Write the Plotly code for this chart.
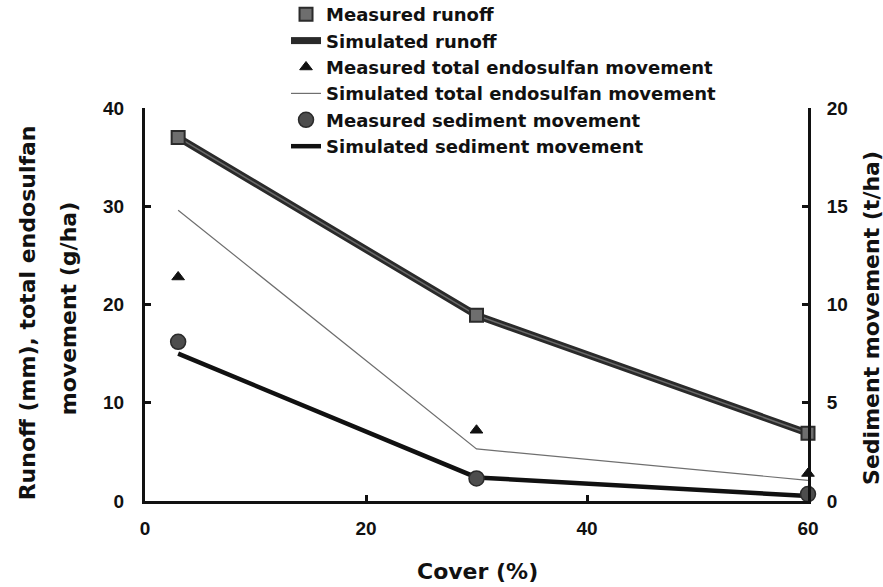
import plotly.graph_objects as go

cover = [3, 30, 60]
measured_runoff = [37.0, 18.9, 6.9]
simulated_runoff = [37.0, 18.9, 6.9]
measured_endosulfan = [22.8, 7.2, 2.8]
simulated_endosulfan = [29.6, 5.3, 2.1]
measured_sediment = [8.1, 1.15, 0.35]
simulated_sediment = [7.5, 1.2, 0.25]

left_ticks = [0, 10, 20, 30, 40]
right_ticks = [0, 5, 10, 15, 20]
x_ticks = [0, 20, 40, 60]

TICKFONT = "Liberation Sans"
TEXTFONT = "DejaVu Sans"
INK = "#111111"

fig = go.Figure()
# lines first (drawn below markers)
fig.add_trace(go.Scatter(x=cover, y=simulated_runoff, mode="lines", name="Simulated runoff",
                         legendrank=2, cliponaxis=False,
                         line=dict(color="#2a2a2a", width=7)))
fig.add_trace(go.Scatter(x=cover, y=simulated_runoff, mode="lines", showlegend=False,
                         hoverinfo="skip", cliponaxis=False,
                         line=dict(color="#6a6a6a", width=1.5)))
fig.add_trace(go.Scatter(x=cover, y=simulated_endosulfan, mode="lines",
                         name="Simulated total endosulfan movement", legendrank=4,
                         cliponaxis=False,
                         line=dict(color="#6f6f6f", width=1.2)))
fig.add_trace(go.Scatter(x=cover, y=simulated_sediment, mode="lines", yaxis="y2",
                         name="Simulated sediment movement", legendrank=6,
                         cliponaxis=False,
                         line=dict(color=INK, width=4.5)))
# markers
fig.add_trace(go.Scatter(x=cover, y=measured_runoff, mode="markers", name="Measured runoff",
                         legendrank=1, cliponaxis=False,
                         marker=dict(symbol="square", size=13, color="#6e6e6e",
                                     line=dict(color="#2b2b2b", width=2))))
fig.add_trace(go.Scatter(x=cover, y=measured_endosulfan, mode="markers",
                         name="Measured total endosulfan movement", legendrank=3,
                         cliponaxis=False,
                         marker=dict(symbol="triangle-up", size=11, color=INK,
                                     line=dict(color=INK, width=1))))
fig.add_trace(go.Scatter(x=cover, y=measured_sediment, mode="markers", yaxis="y2",
                         name="Measured sediment movement", legendrank=5,
                         cliponaxis=False,
                         marker=dict(symbol="circle", size=15, color="#4d4d4d",
                                     line=dict(color="#2b2b2b", width=1.5))))

tick_font = dict(family=TICKFONT, size=19, color=INK, weight="bold")
title_font = dict(family=TEXTFONT, size=22, color=INK, weight="bold")

axis_common = dict(ticks="inside", ticklen=6, tickwidth=2.5, tickcolor=INK,
                   showline=True, linecolor=INK, linewidth=3,
                   showgrid=False, zeroline=False, tickfont=tick_font)

fig.update_layout(
    width=883, height=587,
    margin=dict(l=145, r=75, t=108, b=86, autoexpand=False),
    paper_bgcolor="white", plot_bgcolor="white",
    font=dict(family=TEXTFONT, color=INK),
    showlegend=True,
    legend=dict(x=0.2127, y=1.285, xanchor="left", yanchor="top",
                font=dict(family=TEXTFONT, size=18, color=INK, weight="bold"),
                bgcolor="rgba(0,0,0,0)", tracegroupgap=0, itemwidth=30),
    xaxis=dict(range=[0, 60], tickvals=x_ticks, ticklabelstandoff=8, **axis_common),
    yaxis=dict(range=[0, 40], tickvals=left_ticks, ticklabelstandoff=14, **axis_common),
    yaxis2=dict(range=[0, 20], tickvals=right_ticks, overlaying="y", side="right",
                ticklabelstandoff=12, **axis_common),
    annotations=[
        dict(text="Cover (%)", xref="paper", yref="paper", x=0.502, y=-0.18,
             showarrow=False, font=title_font, xanchor="center", yanchor="middle"),
        dict(text="Runoff (mm), total endosulfan", xref="paper", yref="paper",
             x=-0.178, y=0.48, textangle=-90, showarrow=False, font=title_font,
             xanchor="center", yanchor="middle"),
        dict(text="movement (g/ha)", xref="paper", yref="paper",
             x=-0.115, y=0.49, textangle=-90, showarrow=False, font=title_font,
             xanchor="center", yanchor="middle"),
        dict(text="Sediment movement (t/ha)", xref="paper", yref="paper",
             x=1.096, y=0.465, textangle=-90, showarrow=False, font=title_font,
             xanchor="center", yanchor="middle"),
    ],
)

fig.write_html("out.html", config={"displayModeBar": False},
               post_script="document.body.style.margin='0';document.body.style.padding='0';")
